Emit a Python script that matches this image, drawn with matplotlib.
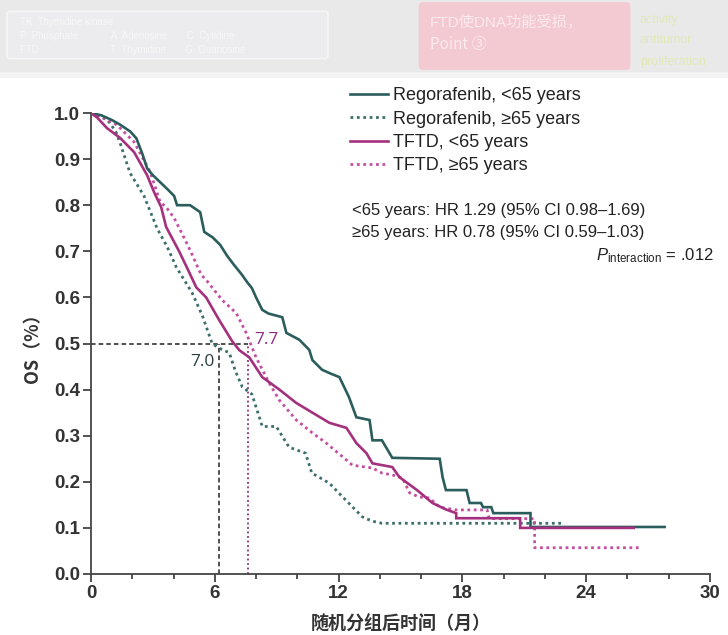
import matplotlib
matplotlib.use("Agg")
import matplotlib.pyplot as plt
from matplotlib.patches import Rectangle, FancyBboxPatch

plt.rcParams['font.family'] = ['Liberation Sans', 'Noto Sans CJK SC', 'DejaVu Sans']
plt.rcParams['mathtext.fontset'] = 'custom'
plt.rcParams['mathtext.rm'] = 'Liberation Sans'
plt.rcParams['mathtext.it'] = 'Liberation Sans:italic'

# ---------------- data (curve vertices) ----------------
reg_lt65_t = [0, 0.5, 1.0, 1.4, 1.9, 2.2, 2.5, 2.72, 3.0, 3.35, 3.7, 4.03, 4.17, 4.8, 5.29,
              5.49, 5.9, 6.26, 6.6, 6.94, 7.3, 7.57, 7.8, 8.0, 8.3, 8.6, 9.27, 9.47, 10.1,
              10.58, 10.73, 11.2, 11.6, 12.04, 12.5, 12.86, 13.5, 13.64, 14.1, 14.6, 16.9,
              17.04, 17.2, 18.2, 18.35, 18.9, 19.0, 19.4, 19.5, 21.3, 21.3, 27.8]
reg_lt65_s = [1.0, 0.995, 0.985, 0.975, 0.96, 0.945, 0.91, 0.88, 0.865, 0.85, 0.835, 0.82, 0.80,
              0.80, 0.785, 0.742, 0.73, 0.714, 0.69, 0.67, 0.65, 0.633, 0.62, 0.60, 0.573, 0.565,
              0.557, 0.523, 0.508, 0.486, 0.464, 0.443, 0.435, 0.427, 0.384, 0.34, 0.334, 0.29,
              0.29, 0.252, 0.25, 0.21, 0.182, 0.182, 0.154, 0.154, 0.145, 0.145, 0.132, 0.132,
              0.102, 0.102]

reg_ge65_t = [0, 0.8, 1.2, 1.41, 1.89, 2.57, 3.2, 3.69, 4.13, 4.9, 5.4, 5.87, 6.2, 6.7, 7.0,
              7.33, 7.8, 8.3, 8.98, 9.6, 10.4, 10.7, 11.55, 12.2, 13.15, 13.6, 14.1, 22.9]
reg_ge65_s = [1.0, 0.985, 0.96, 0.935, 0.87, 0.82, 0.75, 0.71, 0.666, 0.61, 0.56, 0.50, 0.49,
              0.48, 0.44, 0.406, 0.39, 0.32, 0.32, 0.275, 0.262, 0.219, 0.197, 0.167, 0.124,
              0.115, 0.11, 0.11]

tftd_lt65_t = [0, 0.3, 0.78, 1.41, 2.09, 2.72, 3.06, 3.4, 3.64, 4.27, 4.7, 5.1, 5.58, 6.21,
               6.84, 7.2, 7.67, 8.3, 9.13, 9.95, 10.73, 11.55, 12.38, 12.86, 13.35, 13.64,
               14.6, 14.95, 15.8, 16.55, 17.2, 17.7, 17.7, 20.8, 20.8, 26.3]
tftd_lt65_s = [1.0, 0.99, 0.967, 0.946, 0.915, 0.865, 0.828, 0.796, 0.753, 0.70, 0.66, 0.622,
               0.60, 0.551, 0.505, 0.485, 0.47, 0.427, 0.40, 0.371, 0.35, 0.328, 0.317, 0.284,
               0.262, 0.24, 0.232, 0.21, 0.182, 0.154, 0.14, 0.132, 0.121, 0.121, 0.10, 0.10]

tftd_ge65_t = [0, 0.6, 1.26, 2.09, 2.87, 3.35, 3.64, 4.03, 4.37, 4.85, 5.34, 5.58, 6.36, 7.04,
               7.52, 8.0, 8.64, 9.13, 9.95, 10.73, 11.4, 12.2, 12.67, 13.64, 14.1, 14.6, 15.1,
               15.44, 15.9, 16.4, 16.9, 17.7, 19.2, 19.3, 21.5, 21.5, 26.6]
tftd_ge65_s = [1.0, 0.99, 0.974, 0.937, 0.872, 0.807, 0.796, 0.772, 0.742, 0.698, 0.649, 0.638,
               0.594, 0.566, 0.523, 0.47, 0.414, 0.377, 0.334, 0.306, 0.284, 0.254, 0.236, 0.23,
               0.219, 0.215, 0.208, 0.176, 0.167, 0.165, 0.145, 0.139, 0.139, 0.12, 0.12, 0.057,
               0.057]

series_labels = ['Regorafenib, <65 years', 'Regorafenib, \u226565 years',
                 'TFTD, <65 years', 'TFTD, \u226565 years']

median_x = [6.2, 7.6]
median_labels = ['7.0', '7.7']
median_label_pos = [(5.4, 0.46), (8.5, 0.508)]

stats_lines = ['<65 years: HR 1.29 (95% CI 0.98\u20131.69)',
               '\u226565 years: HR 0.78 (95% CI 0.59\u20131.03)']
p_text = r'$\mathit{P}_{\mathrm{interaction}}$ = .012'

x_ticks = [0, 6, 12, 18, 24, 30]
x_minor = [2, 4, 8, 10, 14, 16, 20, 22, 26, 28]
y_ticks = [0.0, 0.1, 0.2, 0.3, 0.4, 0.5, 0.6, 0.7, 0.8, 0.9, 1.0]
x_label = '随机分组后时间（月）'
y_label = 'OS（%）'

# ---------------- figure ----------------
W, H = 728, 635
fig = plt.figure(figsize=(W / 100, H / 100), dpi=100)
fig.patch.set_facecolor('white')


def fx(px):
    return px / W


def fy(py):
    return 1 - py / H


# blurred slide header
fig.patches.append(Rectangle((0, fy(72)), 1, 72 / H, transform=fig.transFigure,
                             facecolor='#e9e9ea', edgecolor='none', zorder=0))
fig.patches.append(Rectangle((0, fy(78)), 1, 6 / H, transform=fig.transFigure,
                             facecolor='#f3f3f4', edgecolor='none', zorder=0))
fig.patches.append(FancyBboxPatch((fx(10), fy(56)), fx(315), 42 / H, transform=fig.transFigure,
                                  boxstyle='round,pad=0.004', facecolor='#ececee',
                                  edgecolor='#f6f6f6', lw=1.2, zorder=1))
fig.patches.append(FancyBboxPatch((fx(423), fy(66)), fx(203), 60 / H, transform=fig.transFigure,
                                  boxstyle='round,pad=0.006', facecolor='#f3c9d2',
                                  edgecolor='none', zorder=1))
fig.text(fx(430), fy(22), 'FTD使DNA功能受损，', color='#fbeaee', fontsize=11, va='center', zorder=2)
fig.text(fx(430), fy(45), 'Point ③', color='#fbeaee', fontsize=11, va='center', zorder=2,
         family=['Noto Sans CJK SC', 'DejaVu Sans'])
fig.text(fx(20), fy(22), 'TK  Thymidine kinase', color='#f7f7f7', fontsize=7, va='center')
fig.text(fx(20), fy(36), 'P  Phosphate            A  Adenosine       C  Cytidine',
         color='#f7f7f7', fontsize=7, va='center')
fig.text(fx(20), fy(50), 'FTD                          T  Thymidine       G  Guanosine',
         color='#f7f7f7', fontsize=7, va='center')
fig.text(fx(640), fy(20), 'activity', color='#e2e8b8', fontsize=9, va='center')
fig.text(fx(640), fy(40), 'antitumor', color='#e2e8b8', fontsize=9, va='center')
fig.text(fx(640), fy(62), 'proliferation', color='#e2e8b8', fontsize=9, va='center')

ax = fig.add_axes([fx(91), fy(574), (710 - 91) / W, (574 - 113) / H])
ax.set_facecolor('white')

teal = '#2b5d5c'
teal_dot = '#3c6f6b'
mag = '#a5307e'
mag_dot = '#c44e9f'
dots = (0, (1, 1.3))

l1, = ax.plot(reg_lt65_t, reg_lt65_s, color=teal, lw=1.9, label=series_labels[0], zorder=4,
              solid_joinstyle='miter')
l2, = ax.plot(reg_ge65_t, reg_ge65_s, color=teal_dot, lw=2.0, linestyle=dots,
              label=series_labels[1], zorder=3)
l3, = ax.plot(tftd_lt65_t, tftd_lt65_s, color=mag, lw=1.9, label=series_labels[2], zorder=4,
              solid_joinstyle='miter')
l4, = ax.plot(tftd_ge65_t, tftd_ge65_s, color=mag_dot, lw=2.0, linestyle=dots,
              label=series_labels[3], zorder=3)

# median markers
ax.plot([0, median_x[1]], [0.5, 0.5], color='#222222', lw=1.1, linestyle=(0, (3, 2)), zorder=2)
ax.plot([median_x[0], median_x[0]], [0, 0.5], color='#222222', lw=1.1, linestyle=(0, (3, 2)), zorder=2)
ax.plot([median_x[1], median_x[1]], [0, 0.5], color='#8a2f78', lw=1.3, linestyle=(0, (1, 1.5)), zorder=2)
ax.text(median_label_pos[0][0], median_label_pos[0][1], median_labels[0], color='#2a3e3e',
        fontsize=12.5, ha='center', va='center', family=['Open Sans', 'DejaVu Sans'])
ax.text(median_label_pos[1][0], median_label_pos[1][1], median_labels[1], color='#8e2a80',
        fontsize=12.5, ha='center', va='center', family=['Open Sans', 'DejaVu Sans'])

ax.set_xlim(0, 30)
ax.set_ylim(0, 1.0)
ax.set_xticks(x_ticks)
ax.set_xticks(x_minor, minor=True)
ax.set_yticks(y_ticks)
ax.set_yticklabels([f'{v:.1f}' for v in y_ticks])
for s in ['top', 'right']:
    ax.spines[s].set_visible(False)
for s in ['left', 'bottom']:
    ax.spines[s].set_color('#444444')
    ax.spines[s].set_linewidth(1.3)
ax.tick_params(axis='both', which='major', direction='out', length=6, width=1.3,
               color='#444444', labelsize=13.5, labelcolor='#333333', pad=2)
ax.tick_params(axis='x', which='minor', direction='out', length=3.5, width=1.3, color='#444444')
for lab in ax.get_xticklabels() + ax.get_yticklabels():
    lab.set_fontweight('bold')
ax.set_ylabel(y_label, fontsize=13, color='#333333', labelpad=8, fontweight='bold',
              family=['Noto Sans CJK SC', 'DejaVu Sans'])
ax.set_xlabel(x_label, fontsize=13, color='#333333', labelpad=9, fontweight='bold',
              family=['Noto Sans CJK SC', 'DejaVu Sans'])

leg = fig.legend(handles=[l1, l2, l3, l4], loc='upper left',
                 bbox_to_anchor=(fx(350), fy(87)), bbox_transform=fig.transFigure,
                 frameon=False, fontsize=13, handlelength=2.1, handletextpad=0.3,
                 labelspacing=0.36, borderpad=0, borderaxespad=0)
for t in leg.get_texts():
    t.set_color('#222222')

fig.text(fx(352), fy(211), stats_lines[0], fontsize=12, color='#222222', va='center')
fig.text(fx(352), fy(233), stats_lines[1], fontsize=12, color='#222222', va='center')
fig.text(fx(714), fy(256), p_text, fontsize=12, color='#222222', va='center', ha='right')

fig.savefig('out.png', dpi=100)
